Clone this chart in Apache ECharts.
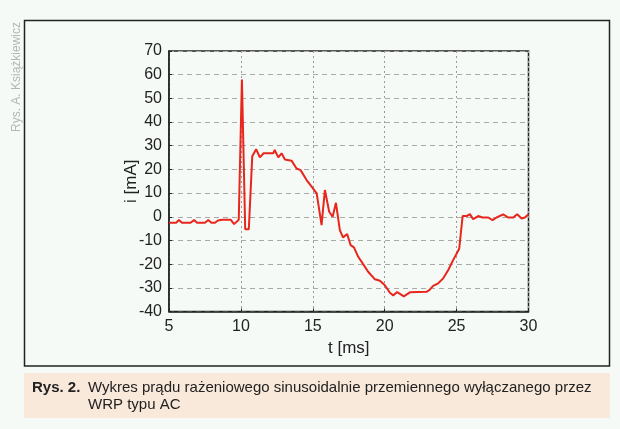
<!DOCTYPE html>
<html><head><meta charset="utf-8">
<script src="https://cdn.jsdelivr.net/npm/echarts@6/dist/echarts.min.js"></script>
<style>html,body{margin:0;padding:0;background:#f5faf7;}#c{width:620px;height:429px;}</style>
</head><body><div id="c"></div>
<script>
// time [ms]
const timeMs = [5.0,5.5,5.69,5.9,6.5,6.75,6.95,7.5,7.73,7.95,8.2,8.4,8.7,9.3,9.53,9.85,10.07,10.3,10.55,10.79,11.06,11.32,11.58,12.25,12.35,12.6,12.83,13.06,13.52,13.87,14.15,14.57,14.92,15.27,15.61,15.84,16.14,16.38,16.61,16.88,17.1,17.39,17.63,17.86,18.16,18.5,18.85,19.32,19.67,20.01,20.36,20.59,20.87,21.33,21.75,22.91,23.1,23.37,23.72,24.07,24.42,24.76,25.07,25.18,25.42,25.7,25.92,26.15,26.5,26.8,27.2,27.5,27.78,28.24,28.59,28.94,29.21,29.52,29.75,30.0];
// current [mA]
const currentMa = [-2.5,-2.5,-1.4,-2.5,-2.5,-1.4,-2.5,-2.5,-1.4,-2.5,-2.5,-1.6,-1.3,-1.3,-3.1,-1.3,58,-5.3,-5.3,25.6,28.5,25.1,26.8,26.8,28.2,25.1,26.8,24.2,23.7,20.4,19.7,15.5,12.7,9.9,-3.5,11.3,2.1,0,5.9,-5.6,-8.7,-7.3,-12,-12.9,-16.9,-20,-23.2,-26.4,-27,-28.9,-32.1,-33.2,-31.8,-33.6,-31.9,-31.7,-31,-29.2,-28.1,-26,-22.5,-18.3,-14.8,-13.5,0.3,0.3,1.1,-1,0.3,-0.3,-0.3,-1.4,-0.3,1,-0.3,-0.3,1.1,-0.7,-0.3,1.1];
const xTicks = [5,10,15,20,25,30];
const yTicks = [-40,-30,-20,-10,0,10,20,30,40,50,60,70];
const xName = 't [ms]';
const yName = 'i [mA]';
const captionLabel = 'Rys. 2.';
const captionLine1 = 'Wykres prądu rażeniowego sinusoidalnie przemiennego wyłączanego przez';
const captionLine2 = 'WRP typu AC';
const credit = 'Rys. A. Książkiewicz';

const chart = echarts.init(document.getElementById('c'));
const font = 'Liberation Sans, Arial, sans-serif';
const narrow = 'Liberation Sans Narrow, Arial Narrow, Liberation Sans, sans-serif';
chart.setOption({
  backgroundColor: '#f5faf7',
  animation: false,
  grid: {left: 169, right: 91.5, top: 51, bottom: 117.5, show: true, borderColor: '#222', borderWidth: 1.5, backgroundColor: 'transparent'},
  xAxis: {
    type: 'value', min: xTicks[0], max: xTicks[xTicks.length-1], interval: 5,
    name: xName, nameLocation: 'middle', nameGap: 28, nameMoveOverlap: false,
    nameTextStyle: {fontFamily: font, fontSize: 17, color: '#222'},
    axisLine: {show: true, onZero: false, lineStyle: {color: '#222', width: 1.5}},
    axisTick: {show: true, inside: true, length: 3, lineStyle: {color: '#222'}},
    axisLabel: {fontFamily: font, fontSize: 16, color: '#222', margin: 7},
    splitLine: {show: true, lineStyle: {color: '#999', type: [2, 3], width: 1}}
  },
  yAxis: {
    type: 'value', min: yTicks[0], max: yTicks[yTicks.length-1], interval: 10,
    name: yName, nameLocation: 'middle', nameGap: 29, nameRotate: 90, nameMoveOverlap: false,
    nameTextStyle: {fontFamily: font, fontSize: 17, color: '#222'},
    axisLine: {show: true, onZero: false, lineStyle: {color: '#222', width: 1.5}},
    axisTick: {show: true, inside: true, length: 3, lineStyle: {color: '#222'}},
    axisLabel: {fontFamily: font, fontSize: 16, color: '#222', margin: 7},
    splitLine: {show: true, lineStyle: {color: '#aaa', type: [5, 4], width: 1}}
  },
  series: [{
    type: 'line', showSymbol: false, symbol: 'none',
    data: timeMs.map((t, i) => [t, currentMa[i]]),
    lineStyle: {color: '#e8261c', width: 2},
    clip: true
  }],
  graphic: [
    {type: 'rect', shape: {x: 24.5, y: 20.5, width: 585, height: 345.5}, style: {fill: 'none', stroke: '#222', lineWidth: 1.5}, silent: true},
    {type: 'rect', shape: {x: 24, y: 373, width: 586, height: 45}, style: {fill: '#f9e9da'}, silent: true},
    {type: 'text', x: 32, y: 388, style: {text: captionLabel, fontFamily: narrow, fontWeight: 'bold', fontSize: 15, fill: '#222', textVerticalAlign: 'middle'}},
    {type: 'text', x: 88, y: 388, style: {text: captionLine1, fontFamily: narrow, fontSize: 15, fill: '#222', textVerticalAlign: 'middle'}},
    {type: 'text', x: 88, y: 405, style: {text: captionLine2, fontFamily: narrow, fontSize: 15, fill: '#222', textVerticalAlign: 'middle'}},
    {type: 'text', x: 16.5, y: 77, rotation: Math.PI/2, style: {text: credit, fontFamily: font, fontSize: 12, fill: '#b5b5b5', textAlign: 'center', textVerticalAlign: 'middle'}}
  ]
});
</script></body></html>
